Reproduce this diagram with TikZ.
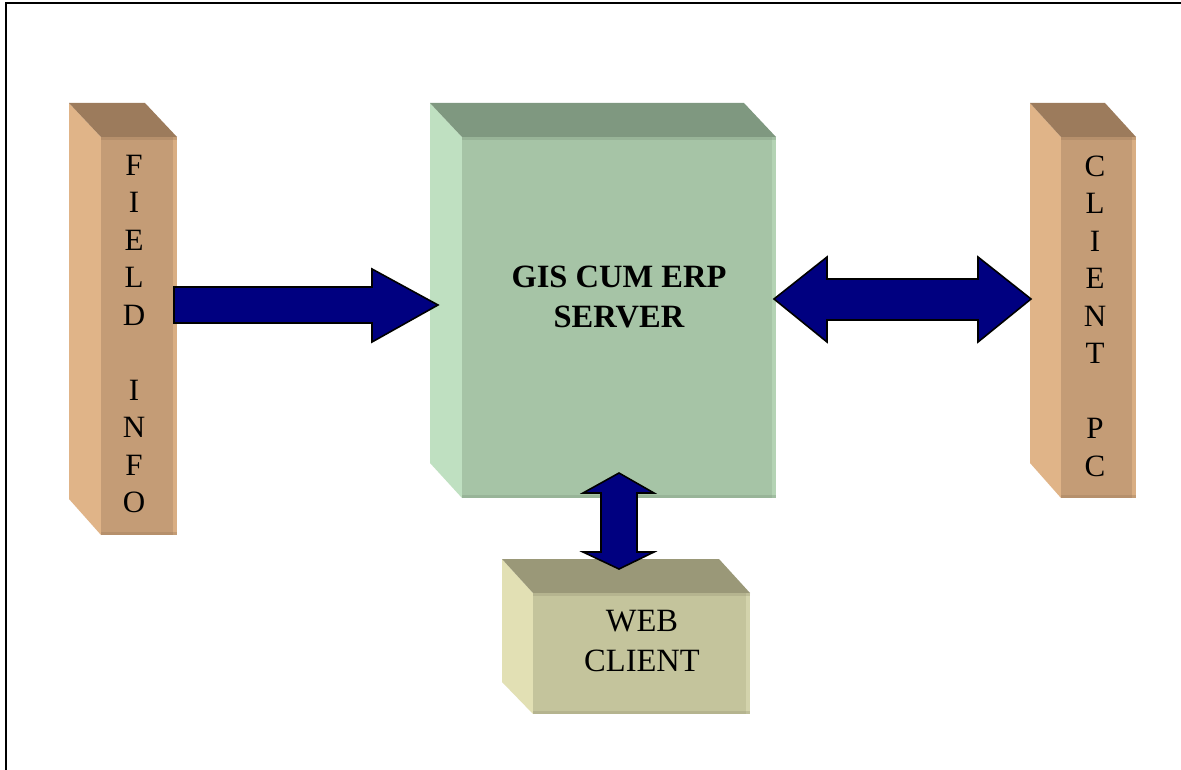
\documentclass[tikz,border=0pt]{standalone}
\usepackage{fontspec}
\setmainfont{Liberation Serif}
\definecolor{brtop}{HTML}{9C7B5C}
\definecolor{brside}{HTML}{E0B488}
\definecolor{brfront}{HTML}{C49C76}
\definecolor{brstrip}{HTML}{D9AE83}
\definecolor{grtop}{HTML}{7F9880}
\definecolor{grside}{HTML}{BFE0C1}
\definecolor{grfront}{HTML}{A6C4A6}
\definecolor{grstrip}{HTML}{B4D3B4}
\definecolor{oltop}{HTML}{9A9878}
\definecolor{olside}{HTML}{E2E0B4}
\definecolor{olfront}{HTML}{C4C49C}
\definecolor{olstrip}{HTML}{D3D3AC}
\definecolor{navy}{HTML}{000080}
\tikzset{
  blockarrow/.style={fill=navy,draw=black,line width=1.6pt,line join=miter},
  vlabel/.style={font=\fontsize{31}{37.5}\selectfont,align=center,inner sep=0pt},
  boxlabel/.style={font=\fontsize{32.5}{40}\selectfont,align=center,inner sep=0pt},
}
% #1 back-left x, #2 back top y, #3 front left x, #4 front top y, #5 front right x, #6 front bottom y, #7 back side bottom y, colours prefix #8
\newcommand{\mycube}[8]{%
  \fill[#8side] (#1,#2) -- (#3,#4) -- (#3,#6) -- (#1,#7) -- cycle;
  \fill[#8top] (#1,#2) -- (#5-#3+#1,#2) -- (#5,#4) -- (#3,#4) -- cycle;
  \fill[#8front] (#3,#4) rectangle (#5,#6);
  \fill[#8strip] (#5-4,#4) rectangle (#5,#6);
  \fill[#8top,opacity=0.35] (#3,#6-3) rectangle (#5,#6);
  \fill[#8top,opacity=0.35] (#3,#4) rectangle (#5,#4+3);
}
\begin{document}
\begin{tikzpicture}[x=1pt,y=-1pt]
\useasboundingbox (0,0) rectangle (1181,770);
\fill[white] (0,0) rectangle (1181,770);
% frame
\draw[line width=2pt] (6,771) -- (6,3) -- (1182,3);

% cubes
\mycube{69}{103}{101}{137}{177}{535}{499}{br}
\mycube{430}{103}{462}{137}{776}{498}{463}{gr}
\mycube{502}{559}{533}{593}{750}{714}{682}{ol}
\mycube{1030}{103}{1061}{137}{1136}{498}{463}{br}

% named anchors
\coordinate (fieldR) at (176,305);
\coordinate (serverL) at (438,305);
\coordinate (serverR) at (774,299);
\coordinate (clientL) at (1031,299);
\coordinate (serverB) at (619,473);
\coordinate (webT) at (619,569);

% labels
\node[vlabel] (field) at (134,334) {F\\I\\E\\L\\D\\[37.5pt]I\\N\\F\\O};
\node[vlabel] (client) at (1095,316) {C\\L\\I\\E\\N\\T\\[37.5pt]P\\C};
\node[boxlabel,font=\bfseries\fontsize{32.5}{40}\selectfont] (server) at (619,297) {GIS CUM ERP\\SERVER};
\node[boxlabel] (web) at (642,641) {WEB\\CLIENT};

% arrows
\draw[blockarrow] (fieldR) ++(-2,-18) -- ++(198,0) -- ++(0,-18) -- (serverL) -- ++(-66,37) -- ++(0,-19) -- ++(-198,0) -- cycle;
\draw[blockarrow] (serverR) -- ++(53,-42) -- ++(0,22) -- ++(151,0) -- ++(0,-22) -- (clientL) -- ++(-53,43) -- ++(0,-22) -- ++(-151,0) -- ++(0,22) -- cycle;
\draw[blockarrow] (serverB) -- ++(35,20) -- ++(-17,0) -- ++(0,59) -- ++(17,0) -- (webT) -- ++(-36,-17) -- ++(18,0) -- ++(0,-59) -- ++(-18,0) -- cycle;
\end{tikzpicture}
\end{document}
